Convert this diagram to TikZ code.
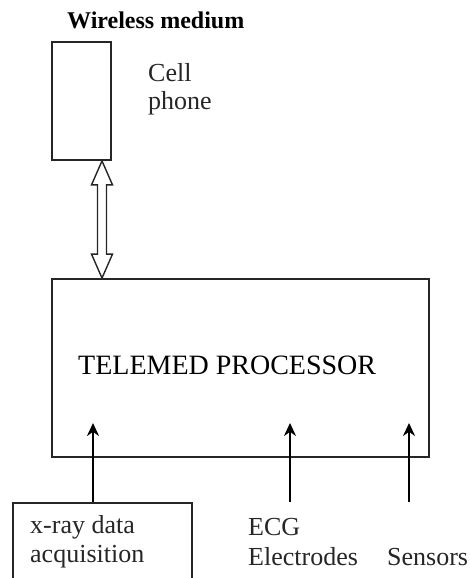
\documentclass[tikz,border=0pt]{standalone}
\usepackage{fontspec}
\setmainfont{Liberation Serif}
\usetikzlibrary{arrows.meta,calc}
\begin{document}
\begin{tikzpicture}[x=1pt,y=-1pt,
  box/.style={draw, line width=1.8pt, inner sep=0pt, draw=black!85},
  lbl/.style={inner sep=0pt, anchor=west, font=\fontsize{26}{30}\selectfont, text=black!85},
  feed/.style={line width=2.2pt, -{Stealth[length=13pt,width=12pt]}}]
\clip (0,0) rectangle (469,578);
\fill[white] (0,0) rectangle (469,578);
\node[lbl, font=\bfseries\fontsize{24}{28}\selectfont, text=black] (wm) at (67,20) {Wireless medium};
\node[box, minimum width=59pt, minimum height=118pt] (phone) at (81.5,101) {};
\node[lbl] (cell) at (148,73) {Cell};
\node[lbl] (phn) at (148,103) {phone};
\node[box, minimum width=377pt, minimum height=178pt] (proc) at (240.5,368) {};
\node[lbl, font=\fontsize{28}{32}\selectfont, text=black] (title) at (78,365) {TELEMED PROCESSOR};
\node[box, minimum width=179pt, minimum height=110pt] (xray) at (102.5,558) {};
\node[lbl] (x1) at (30,527) {x-ray data};
\node[lbl] (x2) at (30,557) {acquisition};
\node[lbl] (e1) at (248,527) {ECG};
\node[lbl] (e2) at (248,557) {Electrodes};
\node[lbl] (s1) at (387,557) {Sensors};
% double outline arrow
\coordinate (t) at (phone.south -| 102,0);
\coordinate (b) at (proc.north -| 102,0);
\draw[line width=1.4pt, line join=miter, fill=white, draw=black!85]
  (t) -- ($(t)+(10.5,24)$) -- ($(t)+(4.5,24)$) -- ($(b)+(4.5,-24)$) -- ($(b)+(10.5,-24)$)
  -- (b) -- ($(b)+(-10.5,-24)$) -- ($(b)+(-4.5,-24)$) -- ($(t)+(-4.5,24)$) -- ($(t)+(-10.5,24)$) -- cycle;
% feeds
\coordinate (ecg) at (290,502);
\coordinate (sen) at (409,502);
\draw[feed] (xray.north -| 93,0) -- (93,423);
\draw[feed] (ecg) -- (290,423);
\draw[feed] (sen) -- (409,423);
\end{tikzpicture}
\end{document}
